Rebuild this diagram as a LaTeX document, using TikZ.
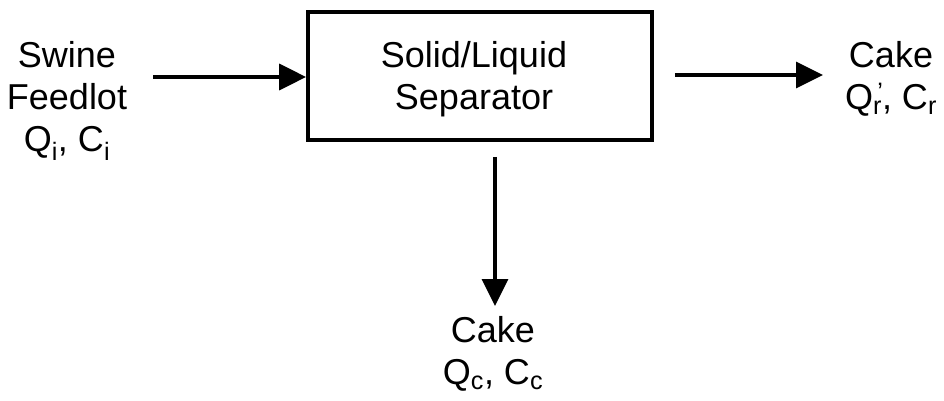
\documentclass[tikz,border=0pt]{standalone}
\usepackage{fontspec}
\setmainfont{Liberation Sans}
\usetikzlibrary{arrows.meta}
\begin{document}
\begin{tikzpicture}[x=1pt,y=-1pt,
  lbl/.style={align=center,inner sep=0pt,font=\fontsize{36}{42}\selectfont},
  flow/.style={line width=3.5pt,-{Triangle[length=27pt,width=26pt]}},
  box/.style={draw,line width=3.8pt,minimum width=344pt,minimum height=128pt,inner sep=0pt}]
\useasboundingbox (0,0) rectangle (944,401);
\node[box] (sep) at (480,76) {};
\node[lbl] (septxt) at (474,79) {Solid/Liquid\\Separator};
\node[lbl] (in) at (67,101) {Swine\\Feedlot\\Q\textsubscript{i}, C\textsubscript{i}};
\node[lbl] (out) at (891,79) {Cake\\Q\rlap{\textsuperscript{\,'}}\textsubscript{r}, C\textsubscript{r}};
\node[lbl] (cake) at (493,354) {Cake\\Q\textsubscript{c}, C\textsubscript{c}};
\coordinate (inS) at (153,77);
\coordinate (outE) at (823,75);
\coordinate (cakeN) at (495,306);
\draw[flow] (inS) -- (sep.west |- inS);
\draw[flow] (sep.east |- outE) ++(21,0) -- (outE);
\draw[flow] (cakeN |- sep.south) ++(0,15) -- (cakeN);
\end{tikzpicture}
\end{document}
